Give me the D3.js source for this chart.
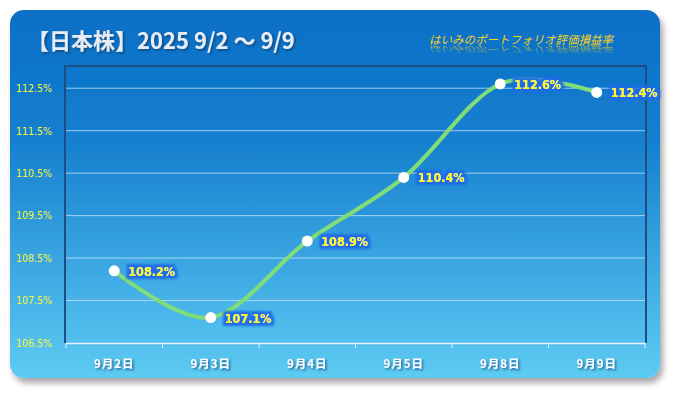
<!DOCTYPE html>
<html>
<head>
<meta charset="utf-8">
<script src="https://cdn.jsdelivr.net/npm/d3@7"></script>
<style>
  body { margin: 0; background: #fff; }
  svg { display: block; }
</style>
</head>
<body>
<svg id="chart"></svg>
<script>
const categories = ["9月2日", "9月3日", "9月4日", "9月5日", "9月8日", "9月9日"];
const values = [108.2, 107.1, 108.9, 110.4, 112.6, 112.4];
const yTicks = [106.5, 107.5, 108.5, 109.5, 110.5, 111.5, 112.5];
const title = "【日本株】2025 9/2 〜 9/9";
const subtitle = "はいみのポートフォリオ評価損益率";

var width = 675, height = 393;
var plot = { left: 66, right: 645, top: 67, bottom: 343 };

var svg = d3.select("#chart").attr("width", width).attr("height", height);
var defs = svg.append("defs");

// background gradient of the card
var bg = defs.append("linearGradient").attr("id", "bg")
  .attr("x1", 0).attr("y1", 0).attr("x2", 0).attr("y2", 1);
bg.append("stop").attr("offset", "0%").attr("stop-color", "#0b6fc6");
bg.append("stop").attr("offset", "35%").attr("stop-color", "#157fcf");
bg.append("stop").attr("offset", "100%").attr("stop-color", "#5ecbf3");

var shadow = defs.append("filter").attr("id", "shadow")
  .attr("x", "-5%").attr("y", "-5%").attr("width", "115%").attr("height", "120%");
shadow.append("feGaussianBlur").attr("in", "SourceAlpha").attr("stdDeviation", 3);
shadow.append("feOffset").attr("dx", 3).attr("dy", 5).attr("result", "off");
shadow.append("feComponentTransfer").append("feFuncA").attr("type", "linear").attr("slope", 0.35);
var sm = shadow.append("feMerge");
sm.append("feMergeNode");
sm.append("feMergeNode").attr("in", "SourceGraphic");

var glow = defs.append("filter").attr("id", "glow")
  .attr("x", "-20%").attr("y", "-40%").attr("width", "140%").attr("height", "180%");
glow.append("feMorphology").attr("in", "SourceAlpha").attr("operator", "dilate").attr("radius", 2.5).attr("result", "d");
glow.append("feGaussianBlur").attr("in", "d").attr("stdDeviation", 1.2).attr("result", "b");
glow.append("feFlood").attr("flood-color", "#1c6ae6").attr("flood-opacity", 0.95);
glow.append("feComposite").attr("in2", "b").attr("operator", "in");
var gm = glow.append("feMerge");
gm.append("feMergeNode");
gm.append("feMergeNode").attr("in", "SourceGraphic");

var tshadow = defs.append("filter").attr("id", "tshadow")
  .attr("x", "-10%").attr("y", "-30%").attr("width", "130%").attr("height", "170%");
tshadow.append("feDropShadow").attr("dx", 1.5).attr("dy", 1.5).attr("stdDeviation", 1)
  .attr("flood-color", "#0a3560").attr("flood-opacity", 0.7);

// fading mask for the subtitle reflection
var reflGrad = defs.append("linearGradient").attr("id", "reflGrad")
  .attr("gradientUnits", "userSpaceOnUse")
  .attr("x1", 0).attr("y1", 46).attr("x2", 0).attr("y2", 55);
reflGrad.append("stop").attr("offset", "0%").attr("stop-color", "#fff").attr("stop-opacity", 0.75);
reflGrad.append("stop").attr("offset", "100%").attr("stop-color", "#fff").attr("stop-opacity", 0);
defs.append("mask").attr("id", "reflMask")
  .attr("maskUnits", "userSpaceOnUse")
  .attr("x", 400).attr("y", 40).attr("width", 250).attr("height", 25)
  .append("rect")
  .attr("x", 400).attr("y", 40).attr("width", 250).attr("height", 25)
  .attr("fill", "url(#reflGrad)");

// card
svg.append("rect")
  .attr("x", 10).attr("y", 10).attr("width", 650).attr("height", 368)
  .attr("rx", 14).attr("fill", "url(#bg)").attr("filter", "url(#shadow)");

// title
svg.append("text")
  .attr("x", 27).attr("y", 49)
  .attr("font-family", "'Noto Sans CJK JP', 'Noto Sans', sans-serif")
  .attr("font-weight", "bold").attr("font-size", 22)
  .attr("fill", "#e6edf5").attr("filter", "url(#tshadow)")
  .text(title);

// subtitle with a faint reflection (a mirrored <use> of the same text)
svg.append("text")
  .attr("id", "sub")
  .attr("x", 521).attr("y", 44).attr("text-anchor", "middle")
  .attr("font-family", "'Noto Sans CJK JP', sans-serif")
  .attr("font-style", "italic").attr("font-size", 11.5)
  .attr("fill", "#f7d21a")
  .text(subtitle);
svg.append("g")
  .attr("mask", "url(#reflMask)")
  .append("use")
  .attr("href", "#sub")
  .attr("transform", "translate(0,81.2) scale(1,-0.8)");

// scales
var x = d3.scaleBand().domain(categories).range([plot.left, plot.right]);
var y = d3.scaleLinear().domain([106.5, 113]).range([plot.bottom, plot.top]);

// grid
svg.append("g").selectAll("line")
  .data(yTicks.slice(1))
  .enter().append("line")
  .attr("x1", plot.left).attr("x2", plot.right)
  .attr("y1", d => y(d)).attr("y2", d => y(d))
  .attr("stroke", "#cfe6f7").attr("stroke-opacity", 0.75).attr("stroke-width", 1);

// frame
svg.append("path")
  .attr("d", "M" + (plot.left - 1) + "," + plot.bottom + "V" + (plot.top - 1) + "H" + (plot.right + 1) + "V" + plot.bottom)
  .attr("fill", "none").attr("stroke", "#1b4f82").attr("stroke-width", 2);

// y axis labels
var yAxis = svg.append("g")
  .attr("transform", "translate(" + (plot.left - 11) + ",0)")
  .call(d3.axisLeft(y).tickValues(yTicks).tickSize(0).tickFormat(d => d.toFixed(1) + "%"));
yAxis.select(".domain").remove();
yAxis.selectAll("text")
  .attr("fill", "#f4f53a").attr("font-size", 10.5)
  .attr("font-family", "'DejaVu Sans Condensed', 'Liberation Sans', sans-serif");

// x axis
var xAxis = svg.append("g")
  .attr("transform", "translate(0," + plot.bottom + ")")
  .call(d3.axisBottom(x).tickSize(0).tickPadding(17));
xAxis.select(".domain").attr("stroke", "#e8f4fc").attr("stroke-width", 1.5);
xAxis.selectAll(".tick text")
  .attr("fill", "#ffffff").attr("font-size", 11.5).attr("font-weight", "bold")
  .attr("letter-spacing", 1)
  .attr("font-family", "'Noto Sans CJK JP', sans-serif")
  .attr("filter", "url(#tshadow)");
xAxis.append("g").selectAll("line")
  .data(categories.concat([null]))
  .enter().append("line")
  .attr("x1", (d, i) => plot.left + i * x.bandwidth())
  .attr("x2", (d, i) => plot.left + i * x.bandwidth())
  .attr("y1", 0).attr("y2", 5)
  .attr("stroke", "#e8f4fc").attr("stroke-width", 1);

// line
var cx = (d, i) => x(categories[i]) + x.bandwidth() / 2;
var line = d3.line()
  .x(cx)
  .y(d => y(d))
  .curve(d3.curveCardinal.tension(0));

svg.append("path")
  .datum(values)
  .attr("d", line)
  .attr("fill", "none").attr("stroke", "#80dd78")
  .attr("stroke-width", 4).attr("stroke-linecap", "round");

// markers
svg.append("g").selectAll("circle")
  .data(values)
  .enter().append("circle")
  .attr("cx", cx).attr("cy", d => y(d)).attr("r", 5.5)
  .attr("fill", "#ffffff");

// data labels
svg.append("g").selectAll("text")
  .data(values)
  .enter().append("text")
  .attr("x", (d, i) => cx(d, i) + 14)
  .attr("y", d => y(d) + 5)
  .attr("fill", "#ffff00").attr("font-size", 12.5).attr("font-weight", "bold")
  .attr("font-family", "'DejaVu Sans Condensed', 'Liberation Sans', sans-serif")
  .attr("filter", "url(#glow)")
  .text(d => d.toFixed(1) + "%");
</script>
</body>
</html>
